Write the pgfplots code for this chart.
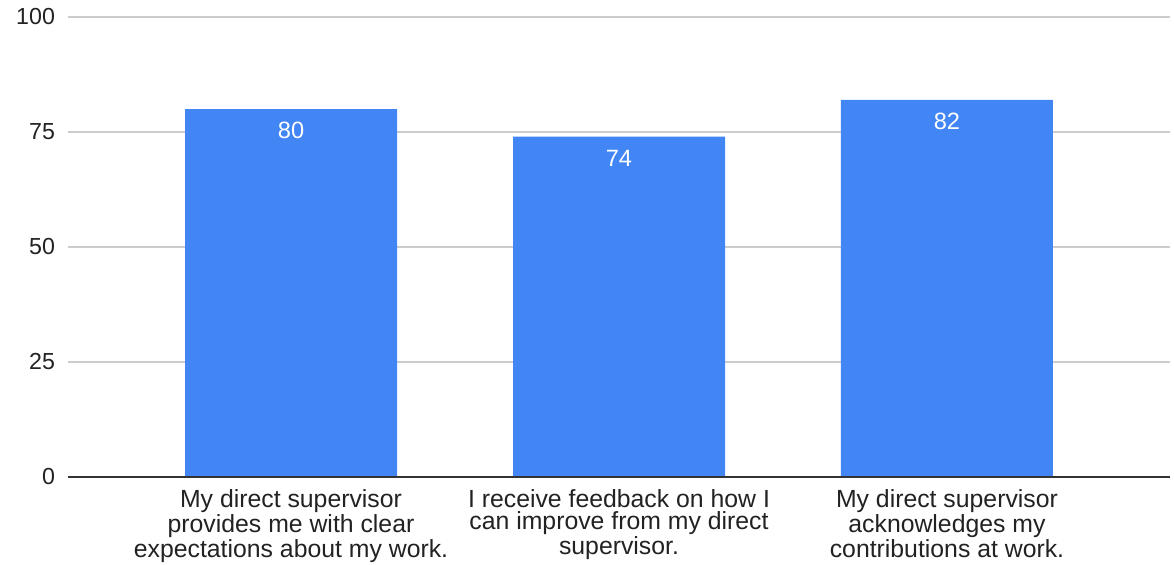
\documentclass[border=0pt]{standalone}
\usepackage{pgfplots}
\pgfplotsset{compat=1.18}
\usepackage{fontspec}
\setmainfont{Liberation Sans}
\definecolor{barblue}{HTML}{4285F4}
\definecolor{gridgray}{HTML}{CCCCCC}
\definecolor{axisdark}{HTML}{333333}
\definecolor{txt}{HTML}{222222}
\begin{document}
\begin{tikzpicture}
\path[use as bounding box] (0,0) rectangle (587pt,282pt);
\begin{axis}[
  at={(34pt,43.5pt)}, anchor=south west,
  scale only axis, width=551pt, height=230pt,
  ymin=0, ymax=100, ytick={0,25,50,75,100},
  xmin=-0.68, xmax=2.68,
  xtick=data,
  xticklabels={{My direct supervisor\\provides me with clear\\expectations about my work.},
               {I receive feedback on how I\\can improve from my direct\\supervisor.},
               {My direct supervisor\\acknowledges my\\contributions at work.}},
  x tick label style={align=center, font=\fontsize{12.4}{11.3}\selectfont, text=txt, yshift=-2.5pt},
  y tick label style={font=\fontsize{11.6}{12}\selectfont, text=txt, xshift=-3pt},
  /pgf/number format/assume math mode=true,
  axis line style={draw=none},
  major tick length=0pt,
  ymajorgrids,
  major grid style={color=gridgray, line width=0.6pt},
  ybar, bar width=106pt,
  nodes near coords,
  every node near coord/.append style={anchor=north, yshift=-6.5pt, inner sep=0pt, text=white, font=\fontsize{11.8}{12}\selectfont},
]
\addplot[fill=barblue, draw=none] coordinates {(0,80) (1,74) (2,82)};
\draw[axisdark, line width=1pt] (rel axis cs:0,0) -- (rel axis cs:1,0);
\end{axis}
\end{tikzpicture}
\end{document}
